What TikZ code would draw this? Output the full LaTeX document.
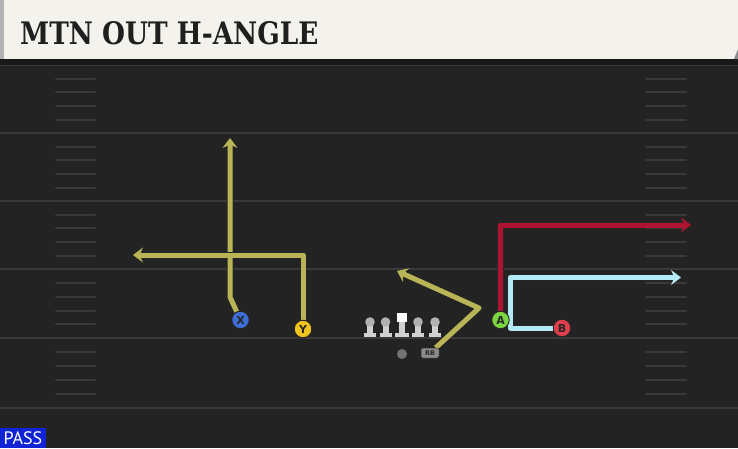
\documentclass[tikz,border=0pt]{standalone}
\usepackage{fontspec}
\setmainfont{DejaVu Sans}
\newfontfamily\titlefont{DejaVu Serif}
\newfontfamily\tagfont{PT Sans}
\usetikzlibrary{arrows.meta, positioning, backgrounds}
\definecolor{fieldgray}{RGB}{35,35,35}
\definecolor{linegray}{RGB}{58,58,58}
\definecolor{headercream}{RGB}{244,242,236}
\definecolor{routeyellow}{RGB}{185,181,86}
\definecolor{routered}{RGB}{174,20,50}
\definecolor{routeblue}{RGB}{180,234,246}
\definecolor{xblue}{RGB}{60,110,214}
\definecolor{yyellow}{RGB}{242,196,32}
\definecolor{agreen}{RGB}{124,212,62}
\definecolor{bred}{RGB}{226,62,76}
\definecolor{passblue}{RGB}{16,36,214}
\tikzset{
x=1pt, y=-1pt, % pixel coordinates, y runs down the page
>={Stealth[length=10pt, width=15pt, inset=3.5pt]}, % route arrow heads
player/.style={circle, draw=black!85, line width=0.9pt, minimum size=17.5pt, inner sep=0pt, text=black!85, font=\bfseries\fontsize{11}{11}\selectfont}, % skill players
route/.style={line width=5pt, line join=round, ->, preaction={draw=black!85, line width=6.6pt, shorten >=9pt, -}}, % the routes
yardline/.style={linegray, line width=2pt}, % yard lines
hashmark/.style={linegray, line width=2pt, line cap=round}, % hash marks
manbody/.style={fill=black!18}, % linemen
manhead/.style={fill=black!30},
}

\begin{document}
\begin{tikzpicture}
  \useasboundingbox (0,0) rectangle (738,448);
  \begin{scope}[on background layer]
  \fill[fieldgray] (0,0) rectangle (738,448);

  % field
  \foreach \yl in {65,133,201,269,338,408}
    \draw[yardline] (0,\yl) -- (738,\yl);
  \foreach \yh in {79,92,106,120,147,160,174,188,215,228,242,256,283,297,311,324,352,366,380,394} {
    \draw[hashmark] (56,\yh) -- (95,\yh);
    \draw[hashmark] (646,\yh) -- (686,\yh);
  }

  % header
  \fill[black!90] (0,59) rectangle (738,65);
  \fill[headercream] (0,0) rectangle (738,59);
  \fill[black!30] (0,0) rectangle (4,59);
  \fill[black!45] (738,49) -- (738,59) -- (734,59) -- cycle;
  \end{scope}
  \node[anchor=west, inner sep=0pt, text=black!88] (title) at (20,33)
    {\scalebox{0.85}[1]{\titlefont\bfseries\fontsize{31}{31}\selectfont MTN OUT H-ANGLE}};

  % formation
  \coordinate (C) at (401.5,337);
  \coordinate[left=16pt of C] (LG);
  \coordinate[left=15.5pt of LG] (LT);
  \coordinate[right=16.5pt of C] (RG);
  \coordinate[right=17pt of RG] (RT);
  \foreach \m in {LT,LG,RG,RT} {
    \begin{scope}[shift={(\m)}]
      \fill[manbody] (-6,-4.5) rectangle (6,0);
      \fill[manbody] (-3,-13) rectangle (3,-4);
      \fill[manhead] (0,-15) circle (4.8);
    \end{scope}
  }
  \begin{scope}[shift={(C)}]
    \fill[manbody] (-7,-4.5) rectangle (7,0);
    \fill[manbody] (-3,-15) rectangle (3,-4);
    \fill[white] (-5,-24) rectangle (5,-15);
  \end{scope}
  \node[circle, fill=black!55, minimum size=10pt, inner sep=0pt] (QB) at (402,354) {};
  \node[rounded corners=2pt, fill=black!45, draw=black!80, line width=0.5pt, minimum width=18pt, minimum height=10pt, inner sep=0pt, text=black!85, font=\bfseries\fontsize{6.5}{6.5}\selectfont] (RB) at (430,353) {RB};

  \node[player, fill=xblue] (X) at (240.5,320) {X};
  \node[player, fill=yyellow] (Y) at (303,329) {Y};
  \node[player, fill=agreen] (A) at (500.5,320) {A};
  \node[player, fill=bred] (B) at (562,328) {B};

  % routes
  \coordinate (xbend) at (230,297);
  \coordinate (xend) at (230,138);
  \coordinate (yend) at (133,255);
  \coordinate (rbcut) at (479,308);
  \coordinate (rbend) at (397,271);
  \coordinate (aend) at (691,225);
  \coordinate (bcorner) at (510.5,277.5);
  \coordinate (bend) at (681,277.5);
  \begin{scope}[on background layer]
  \draw[route, routeyellow] (X) -- (xbend) -- (xend);
  \draw[route, routeyellow] (Y) |- (yend);
  \draw[route, routeyellow] (RB) -- (rbcut) -- (rbend);
  \draw[route, routered] (A) |- (aend);
  \draw[route, routeblue] (B) -| (bcorner) -- (bend);
  \end{scope}

  % play type
  \node[anchor=south west, fill=passblue, text=white, inner xsep=3.5pt, inner ysep=2pt, minimum height=20pt, font=\tagfont\fontsize{18}{18}\selectfont] (pass) at (0,448) {PASS};
\end{tikzpicture}
\end{document}
